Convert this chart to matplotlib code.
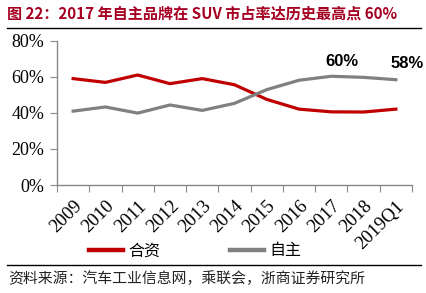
import matplotlib
matplotlib.use("Agg")
import matplotlib.pyplot as plt
from matplotlib.lines import Line2D
from matplotlib import font_manager

categories = ["2009", "2010", "2011", "2012", "2013", "2014", "2015", "2016", "2017", "2018", "2019Q1"]
jv = [58.9, 56.8, 60.9, 56.1, 58.9, 55.5, 47.4, 42, 40.5, 40.4, 42]
own = [40.9, 43.2, 39.8, 44.3, 41.3, 45.2, 52.8, 58, 60.2, 59.6, 58.3]
yticks = [0, 20, 40, 60, 80]
series_names = ["合资", "自主"]
title = "图 22：2017 年自主品牌在 SUV 市占率达历史最高点 60%"
source = "资料来源：汽车工业信息网，乘联会，浙商证券研究所"

names = {f.name for f in font_manager.fontManager.ttflist}
narrow = "Liberation Sans Narrow" if "Liberation Sans Narrow" in names else "Liberation Sans"

W, H = 426, 293
fig = plt.figure(figsize=(W / 100, H / 100), dpi=100)
cjk = ["Noto Sans CJK SC", "DejaVu Sans"]

ax = fig.add_axes([57 / W, 1 - 185 / H, (412 - 57) / W, (185 - 40.5) / H])
x = list(range(len(categories)))
red = "#C00000"
gray = "#808080"
ax.plot(x, jv, color=red, lw=2.3, solid_joinstyle="round")
ax.plot(x, own, color=gray, lw=2.3, solid_joinstyle="round")
ax.set_xlim(-0.5, len(categories) - 0.5)
ax.set_ylim(0, 80)
ax.set_yticks(yticks)
ax.set_yticklabels([f"{v}%" for v in yticks], family="Liberation Serif", fontsize=13)
ax.set_xticks([i - 0.5 for i in range(len(categories) + 1)], minor=False)
ax.set_xticklabels([])
ax.set_xticks(x, minor=True)
ax.set_xticklabels(categories, minor=True, rotation=45, ha="right", va="top",
                   rotation_mode="anchor", family="Liberation Serif", fontsize=13.5)
ax.tick_params(axis="x", which="minor", length=0, pad=9)
ax.tick_params(axis="x", which="major", length=5, color="#888888", direction="out")
ax.tick_params(axis="y", length=5, color="#888888", direction="out", pad=4)
for s in ["top", "right"]:
    ax.spines[s].set_visible(False)
for s in ["left", "bottom"]:
    ax.spines[s].set_color("#888888")
    ax.spines[s].set_linewidth(1)

ax.annotate(f"{own[8]:.0f}%", (8, own[8]), xytext=(8, 5), textcoords="offset points",
            ha="center", va="bottom", fontsize=12, fontweight="bold", family=narrow)
ax.annotate(f"{own[10]:.0f}%", (10, own[10]), xytext=(8, 6), textcoords="offset points",
            ha="center", va="bottom", fontsize=12, fontweight="bold", family=narrow)

# title
fig.text(7 / W, 1 - 14 / H, title, family=cjk, fontsize=10.9, fontweight="bold",
         color="#A50021", va="center", ha="left")
fig.add_artist(Line2D([7 / W, 421 / W], [1 - 28 / H, 1 - 28 / H], color="black", lw=1))

# legend
handles = [Line2D([], [], color=red, lw=3.2), Line2D([], [], color=gray, lw=3.2)]
fig.legend(handles, series_names, loc="center left", bbox_to_anchor=(89 / W, 1 - 251 / H),
           ncol=2, frameon=False, prop={"family": cjk, "size": 11.5}, handlelength=2.1,
           columnspacing=4.4, handletextpad=0.35, borderpad=0, borderaxespad=0)

fig.add_artist(Line2D([7 / W, 421 / W], [1 - 264.5 / H, 1 - 264.5 / H], color="black", lw=1))
fig.text(8 / W, 1 - 279 / H, source, family=cjk, fontsize=10.7, va="center", ha="left", color="#222222")

fig.savefig("out.png", dpi=100)
